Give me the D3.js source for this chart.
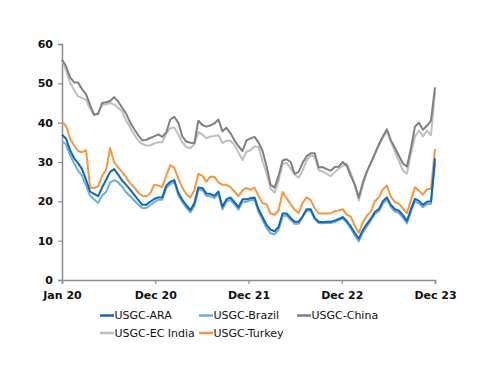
<!DOCTYPE html>
<html><head><meta charset="utf-8">
<script src="https://cdn.jsdelivr.net/npm/d3@7"></script>
<style>body{margin:0;background:#fff}svg{display:block}</style>
</head><body>
<svg id="c" width="500" height="386"></svg>
<script>
const xTickLabels = ["Jan 20","Dec 20","Dec 21","Dec 22","Dec 23"];
const yTicks = [0,10,20,30,40,50,60];
const seriesNames = ["USGC-ARA","USGC-Brazil","USGC-China","USGC-EC India","USGC-Turkey"];
const seriesColors = ["#1464B4","#6AAEE2","#808080","#BFBFBF","#F7963E"];

const ara = [36.9,36,33,31,29.7,28.2,25.5,22.5,21.9,21.3,23.5,25.5,27.5,28.2,26.8,25.3,24.2,23,21.7,20.4,19.1,19.1,19.9,20.6,21,21,24,25,25.4,22.2,20.4,19,17.8,19.5,23.5,23.4,22,21.9,21.4,22.5,18.6,20.5,21,19.8,18.5,20.5,20.5,20.8,21,18,16,14,12.8,12.4,13.5,16.9,16.9,15.8,14.8,14.8,16.2,18,18,15.8,14.8,14.7,14.8,14.8,15.1,15.5,16,15,13.6,12,10.5,12.7,14.2,15.6,17.3,18,20,21,19.1,18,17.6,16.5,15,18,20.6,20.1,19.1,19.9,20,30.9];
const brazil = [35.2,34.5,31.8,29.7,27.8,26.5,24,21.4,20.5,19.6,21.5,22.4,24.8,25.4,24.8,23.7,22.3,21.3,20.2,19.2,18.3,18.3,19,19.8,20.4,20.4,23.4,24.4,24.9,21.6,19.8,18.4,17.2,18.8,23,22.9,21.4,21.3,20.8,21.9,18,19.9,20.4,19.2,17.9,19.9,19.9,20.3,20.4,17.3,15.3,13.2,11.9,11.6,12.8,16.2,16.4,15.3,14.3,14.3,16,17.7,17.6,15.5,14.5,14.4,14.5,14.5,14.8,15.2,15.7,14.6,13.1,11.4,9.8,12,13.6,15.1,16.8,17.5,19.4,20.5,18.6,17.4,17,15.9,14.4,17.4,20,19.5,18.5,19.3,19.4,29.8];
const china = [56,54.4,51.5,50.3,50.2,48.5,47.2,44.5,42,42.2,45,45.2,45.5,46.5,45.4,43.8,42.3,40,38.4,36.8,35.5,35.6,36.1,36.5,37,36.4,37.5,40.8,41.5,40,36.5,35.2,34.9,34.8,40.5,39.4,39,39.3,39.8,40.8,37.8,38.7,37.3,35.5,34,32.8,35.5,36,36.4,35,32.8,29,24.2,23.5,26.5,30.4,30.7,30,27,27.5,29.8,31.5,32.2,32.2,28.6,28.7,28.2,27.8,28.7,28.8,30,29,26.5,24.3,21,24.8,27.5,29.8,32,34.5,36.5,38.3,35.5,33.6,31.6,29.6,28.8,33.5,39,40,38.2,39.2,40.5,49];
const ecIndia = [56,53.3,50.2,48.3,46.7,46.3,45.8,43.5,42,42.5,44.5,44.7,45,44.6,43.8,42.8,40.5,38.8,37,35.4,34.6,34.2,34.2,34.7,35,35,37.3,38.6,38.8,37,35,33.8,33.5,34.5,37.6,37,36,36.5,36.6,36.8,34.8,35.4,35.4,34.3,32.4,30.5,32.6,33,34,33.8,30.2,27.2,23.2,22.2,25.2,29.5,29.8,28.4,26.8,26,27.8,30.5,31.6,31.4,27.9,27.6,27,26.4,27.4,28.3,29,29.6,27.2,24,20.2,24,27.5,29.8,32.2,34.2,36.2,37.8,35.2,32.8,30.3,27.8,27,32,36.5,38,36.5,38,36.8,48];
const turkey = [40.3,39.2,36,34.2,32.8,32.5,33,23.5,23.4,23.8,26.5,28,33.5,30,28.6,27.5,26.1,24.6,23.6,22.2,21.4,21.3,22,24.2,24,23.6,26.5,29.2,28.5,25.8,23.5,21.8,21,22.8,27,26.5,25,26.3,26.2,24.8,24.2,24.2,23.6,22.5,21.3,22.8,23.4,22.9,23.5,21.4,19.5,19.3,16.9,16.6,17.6,22.4,20.8,19.3,17.9,17,19.6,21,20.3,18.3,16.9,16.9,16.9,17,17.5,17.7,18,16.6,16.1,13.8,12,14.6,16.3,17.4,20,21,23,24,21.2,19.8,19.4,18.2,17,20.3,23.6,22.7,21.7,23.1,23.2,33.3];

const seriesData = [ara, brazil, china, ecIndia, turkey];
const drawOrder = [3,2,4,1,0];

(function(){
const svg = d3.select("#c");
const mLeft = 62, mRight = 435, mTop = 44, mBottom = 280;
const n = ara.length;
const x = d3.scaleLinear().domain([0, n-1]).range([mLeft, mRight]);
const y = d3.scaleLinear().domain([0, 60]).range([mBottom, mTop]);
const tickIdx = xTickLabels.map((d,i)=> i*(n-1)/(xTickLabels.length-1));

const font = "'DejaVu Sans', Verdana, sans-serif";

const yAxis = svg.append("g").attr("transform",`translate(${mLeft},0)`)
  .call(d3.axisLeft(y).tickValues(yTicks).tickSize(4).tickPadding(5).tickFormat(d3.format("d")));
yAxis.select(".domain").attr("stroke","#8c8c8c").attr("stroke-width",1.5);
yAxis.selectAll(".tick line").attr("stroke","#8c8c8c").attr("stroke-width",1.2);
yAxis.selectAll("text").attr("font-family",font).attr("font-size",11).attr("font-weight","bold").attr("fill","#111");

const xAxis = svg.append("g").attr("transform",`translate(0,${mBottom})`)
  .call(d3.axisBottom(x).tickValues(tickIdx).tickSize(4).tickPadding(7).tickFormat((d,i)=>xTickLabels[i]));
xAxis.select(".domain").attr("stroke","#8c8c8c").attr("stroke-width",1.5);
xAxis.selectAll(".tick line").attr("stroke","#8c8c8c").attr("stroke-width",1.2);
xAxis.selectAll("text").attr("font-family",font).attr("font-size",11).attr("font-weight","bold").attr("fill","#111");

const line = d3.line().x((d,i)=>x(i)).y(d=>y(d));
const g = svg.append("g");
drawOrder.forEach(k=>{
  g.append("path").datum(seriesData[k]).attr("d",line)
    .attr("fill","none").attr("stroke",seriesColors[k]).attr("stroke-width",2)
    .attr("stroke-linejoin","round");
});

const legPos = [[100,315.5],[199,315.5],[297,315.5],[100,333],[199,333]];
const leg = svg.append("g");
seriesNames.forEach((name,k)=>{
  const [lx,ly] = legPos[k];
  leg.append("line").attr("x1",lx).attr("x2",lx+14).attr("y1",ly).attr("y2",ly)
    .attr("stroke",seriesColors[k]).attr("stroke-width",2.5);
  leg.append("text").attr("x",lx+14.5).attr("y",ly).attr("dy","0.35em")
    .attr("font-family",font).attr("font-size",11).attr("fill","#111").text(name);
});
})();
</script>
</body></html>
